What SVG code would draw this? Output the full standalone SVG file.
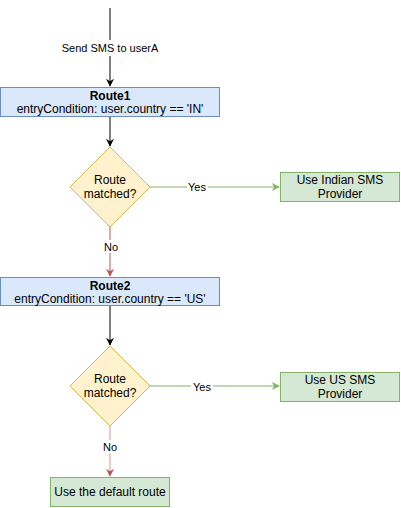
<svg xmlns="http://www.w3.org/2000/svg" width="401" height="508" viewBox="0 0 401 508">
<style>
text{font-family:"Liberation Sans",Arial,sans-serif;font-size:12px;fill:#000;text-anchor:middle}
.lbl{font-size:11px}
.blue{fill:#dae8fc;stroke:#6c8ebf;stroke-width:1}
.green{fill:#d5e8d4;stroke:#82b366;stroke-width:1}
.yellow{fill:#fff2cc;stroke:#d6b656;stroke-width:1}
.e{fill:none;stroke-width:1}
.k{stroke:#000}
.g{stroke:#82b366}
.r{stroke:#b85450}
.bg{fill:#fff}
</style>
<defs>
<marker id="ak" viewBox="0 0 10 10" refX="9" refY="5" markerWidth="8" markerHeight="8" markerUnits="userSpaceOnUse" orient="auto"><path d="M0,0 L10,5 L0,10 L3,5 Z" fill="#000"/></marker>
<marker id="ag" viewBox="0 0 10 10" refX="9" refY="5" markerWidth="8" markerHeight="8" markerUnits="userSpaceOnUse" orient="auto"><path d="M0,0 L10,5 L0,10 L3,5 Z" fill="#82b366"/></marker>
<marker id="ar" viewBox="0 0 10 10" refX="9" refY="5" markerWidth="8" markerHeight="8" markerUnits="userSpaceOnUse" orient="auto"><path d="M0,0 L10,5 L0,10 L3,5 Z" fill="#b85450"/></marker>
</defs>
<g id="connectors">
<path class="e k" d="M110,8 L110,86" marker-end="url(#ak)"/>
<rect class="bg" x="58" y="40" width="104" height="16"/>
<text class="lbl" x="110" y="52">Send SMS to userA</text>
<path class="e k" d="M110,117 L110,146" marker-end="url(#ak)"/>
<path class="e g" d="M150,187 L279,187" marker-end="url(#ag)"/>
<rect class="bg" x="187" y="181" width="21" height="13"/>
<text class="lbl" x="197" y="191">Yes</text>
<path class="e r" d="M110,227 L110,276" marker-end="url(#ar)"/>
<rect class="bg" x="102" y="240" width="16" height="13"/>
<text class="lbl" x="111" y="251">No</text>
<path class="e k" d="M110,306 L110,345" marker-end="url(#ak)"/>
<path class="e g" d="M150,386 L279,386" marker-end="url(#ag)"/>
<rect class="bg" x="191" y="380" width="22" height="13"/>
<text class="lbl" x="202" y="391">Yes</text>
<path class="e r" d="M110,426 L110,476" marker-end="url(#ar)" stroke-opacity="0.6"/>
<rect class="bg" x="102" y="440" width="16" height="13"/>
<text class="lbl" x="110" y="451">No</text>
</g>
<g id="route1">
<rect class="blue" x="0.5" y="87.5" width="219" height="29"/>
<text x="110" y="100" font-weight="bold">Route1</text>
<text x="110" y="113">entryCondition: user.country == 'IN'</text>
</g>
<g id="decision1">
<path class="yellow" d="M110,147 L150,187 L110,227 L70,187 Z"/>
<text x="110" y="184">Route</text>
<text x="110" y="198">matched?</text>
</g>
<g id="indian">
<rect class="green" x="280.5" y="172.5" width="119" height="29"/>
<text x="340" y="184">Use Indian SMS</text>
<text x="340" y="198">Provider</text>
</g>
<g id="route2">
<rect class="blue" x="0.5" y="277.5" width="219" height="28"/>
<text x="110" y="290" font-weight="bold">Route2</text>
<text x="110" y="303">entryCondition: user.country == 'US'</text>
</g>
<g id="decision2">
<path class="yellow" d="M110,346 L150,386 L110,426 L70,386 Z"/>
<text x="110" y="383">Route</text>
<text x="110" y="397">matched?</text>
</g>
<g id="us">
<rect class="green" x="280.5" y="372.5" width="119" height="29"/>
<text x="340" y="384">Use US SMS</text>
<text x="340" y="398">Provider</text>
</g>
<g id="default">
<rect class="green" x="50.5" y="477.5" width="119" height="29"/>
<text x="110" y="496">Use the default route</text>
</g>
</svg>
